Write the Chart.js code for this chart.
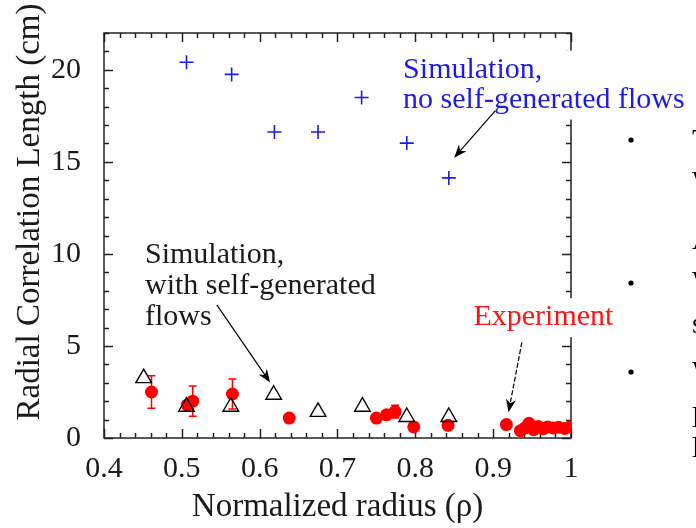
<!DOCTYPE html>
<html>
<head>
<meta charset="utf-8">
<script src="https://cdn.jsdelivr.net/npm/chart.js@4.4.1/dist/chart.umd.min.js"></script>
<style>
  html, body { margin: 0; padding: 0; background: #fff; }
</style>
</head>
<body>
<canvas id="c" width="696" height="528"></canvas>
<script>
// ── Data ─────────────────────────────────────────────────────────────────────
// Simulation, no self-generated flows (blue +)
const noFlowX = [0.506, 0.564, 0.619, 0.675, 0.731, 0.789, 0.843];
const noFlowY = [20.41, 19.75, 16.62, 16.62, 18.50, 16.02, 14.13];

// Simulation, with self-generated flows (open triangles)
const withFlowX = [0.451, 0.506, 0.563, 0.618, 0.675, 0.732, 0.789, 0.843];
const withFlowY = [3.25, 1.70, 1.70, 2.35, 1.42, 1.70, 1.14, 1.14];

// Experiment (red dots) + symmetric error
const expX   = [0.461, 0.507, 0.514, 0.565, 0.638, 0.750, 0.763, 0.774, 0.798, 0.842, 0.917,
                0.935, 0.941, 0.946, 0.952, 0.958, 0.964, 0.970, 0.977, 0.984, 0.992, 0.999];
const expY   = [2.50, 1.79, 2.00, 2.39, 1.08, 1.08, 1.26, 1.43, 0.60, 0.69, 0.73,
                0.40, 0.55, 0.80, 0.45, 0.62, 0.50, 0.60, 0.55, 0.58, 0.52, 0.60];
const expErr = [0.88, 0, 0.82, 0.81, 0, 0, 0, 0.35, 0, 0, 0,
                0, 0, 0, 0, 0, 0, 0, 0, 0, 0, 0];

// Axes
const xTickVals   = [0.4, 0.5, 0.6, 0.7, 0.8, 0.9, 1.0];
const xTickLabels = ["0.4", "0.5", "0.6", "0.7", "0.8", "0.9", "1"];
const yTickVals   = [0, 5, 10, 15, 20];
const yTickLabels = ["0", "5", "10", "15", "20"];

const SERIF = "'Liberation Serif', 'Times New Roman', serif";
const BLUE = "rgb(28,28,230)";
const RED = "#ff0000";
const INK = "#1a1a1a";

const toPts = (xs, ys) => xs.map((x, i) => ({ x, y: ys[i] }));

// ── Frame with inward ticks on all four sides ────────────────────────────────
const framePlugin = {
  id: "frame",
  beforeDatasetsDraw(chart) {
    const { ctx, chartArea: a, scales: { x, y } } = chart;
    ctx.save();
    ctx.strokeStyle = "#222";
    ctx.lineWidth = 1.5;
    ctx.strokeRect(a.left, a.top, a.right - a.left, a.bottom - a.top);
    ctx.beginPath();
    for (let i = 0; i <= 30; i++) {
      const px = Math.round(x.getPixelForValue(0.4 + i * 0.02)) + 0.5;
      const len = i % 5 === 0 ? 9 : 5;
      ctx.moveTo(px, a.bottom); ctx.lineTo(px, a.bottom - len);
      ctx.moveTo(px, a.top); ctx.lineTo(px, a.top + len);
    }
    for (let v = 0; v <= 22; v++) {
      const py = Math.round(y.getPixelForValue(v)) + 0.5;
      const len = v % 5 === 0 ? 9 : 5;
      ctx.moveTo(a.left, py); ctx.lineTo(a.left + len, py);
      ctx.moveTo(a.right, py); ctx.lineTo(a.right - len, py);
    }
    ctx.stroke();

    // error bars for the experiment
    ctx.strokeStyle = RED;
    ctx.lineWidth = 1.5;
    ctx.beginPath();
    expX.forEach((xv, i) => {
      if (!expErr[i]) return;
      const px = x.getPixelForValue(xv);
      const y1 = y.getPixelForValue(expY[i] - expErr[i]);
      const y2 = y.getPixelForValue(expY[i] + expErr[i]);
      ctx.moveTo(px, y1); ctx.lineTo(px, y2);
      ctx.moveTo(px - 4, y1); ctx.lineTo(px + 4, y1);
      ctx.moveTo(px - 4, y2); ctx.lineTo(px + 4, y2);
    });
    ctx.stroke();
    ctx.restore();
  },
};

// ── Annotations: labels, arrows, y title, slide fragments ────────────────────
function arrow(ctx, x1, y1, x2, y2, dashed) {
  const ang = Math.atan2(y2 - y1, x2 - x1);
  const L = 13, W = 5;
  ctx.save();
  ctx.strokeStyle = "#000";
  ctx.fillStyle = "#000";
  ctx.lineWidth = 1.2;
  if (dashed) ctx.setLineDash([5, 2]);
  ctx.beginPath();
  ctx.moveTo(x1, y1);
  ctx.lineTo(x2 - Math.cos(ang) * 8, y2 - Math.sin(ang) * 8);
  ctx.stroke();
  ctx.setLineDash([]);
  ctx.translate(x2, y2);
  ctx.rotate(ang);
  ctx.beginPath();
  ctx.moveTo(0, 0);
  ctx.lineTo(-L, -W);
  ctx.lineTo(-L * 0.7, 0);
  ctx.lineTo(-L, W);
  ctx.closePath();
  ctx.fill();
  ctx.restore();
}

function label(ctx, x, y, note, color, lineGap) {
  const px = x.getPixelForValue(note.x);
  const py = y.getPixelForValue(note.y);
  ctx.font = "30px " + SERIF;
  const w = Math.max(...note.text.map((t) => ctx.measureText(t).width));
  ctx.fillStyle = "#fff";
  ctx.fillRect(px - 3, py - 27, w + 6, lineGap * (note.text.length - 1) + 39);
  ctx.fillStyle = color;
  ctx.textBaseline = "alphabetic";
  ctx.textAlign = "left";
  note.text.forEach((t, i) => ctx.fillText(t, px, py + i * lineGap));
}

const notesPlugin = {
  id: "notes",
  afterDatasetsDraw(chart) {
    const { ctx, scales: { x, y } } = chart;
    ctx.save();
    label(ctx, x, y, { x: 0.7843, y: 19.58, text: ["Simulation,", "no self-generated flows"] }, BLUE, 30);
    label(ctx, x, y, { x: 0.4527, y: 9.48, text: ["Simulation,", "with self-generated", "flows"] }, INK, 31);
    label(ctx, x, y, { x: 0.8747, y: 6.13, text: ["Experiment"] }, "#ff1414", 30);

    arrow(ctx, x.getPixelForValue(0.9026), y.getPixelForValue(17.77),
               x.getPixelForValue(0.8499), y.getPixelForValue(15.23), false);
    arrow(ctx, x.getPixelForValue(0.5449), y.getPixelForValue(7.23),
               x.getPixelForValue(0.6134), y.getPixelForValue(3.02), false);
    arrow(ctx, x.getPixelForValue(0.9369), y.getPixelForValue(5.20),
               x.getPixelForValue(0.9197), y.getPixelForValue(1.40), true);

    // y title
    ctx.save();
    ctx.translate(30, 212);
    ctx.rotate(-Math.PI / 2);
    ctx.font = "33px " + SERIF;
    ctx.fillStyle = INK;
    ctx.textAlign = "center";
    ctx.textBaseline = "middle";
    ctx.fillText("Radial Correlation Length (cm)", 0, 0);
    ctx.restore();

    // bullets and clipped letters of the neighbouring slide text
    ctx.fillStyle = "#000";
    [140, 283, 372].forEach((by) => {
      ctx.beginPath(); ctx.arc(631, by, 2.6, 0, Math.PI * 2); ctx.fill();
    });
    ctx.font = "30px " + SERIF;
    ctx.textBaseline = "top";
    [["T", 126], ["W", 168], ["A", 226], ["W", 268], ["s", 310], ["W", 358], ["l", 404], ["l", 434]]
      .forEach(([ch, ty]) => ctx.fillText(ch, 692, ty));
    ctx.restore();
  },
};

// ── Chart ────────────────────────────────────────────────────────────────────
new Chart(document.getElementById("c"), {
  type: "scatter",
  data: {
    datasets: [
      {
        label: "Simulation, with self-generated flows",
        data: toPts(withFlowX, withFlowY),
        pointStyle: "triangle",
        pointRadius: 9,
        borderColor: "#000",
        backgroundColor: "rgba(255,255,255,0)",
        borderWidth: 1.4,
      },
      {
        label: "Experiment",
        data: toPts(expX, expY),
        pointStyle: "circle",
        pointRadius: 6.5,
        borderColor: RED,
        backgroundColor: RED,
        borderWidth: 0,
      },
      {
        label: "Simulation, no self-generated flows",
        data: toPts(noFlowX, noFlowY),
        pointStyle: "cross",
        pointRadius: 7,
        borderColor: BLUE,
        borderWidth: 1.6,
      },
    ],
  },
  options: {
    responsive: false,
    animation: false,
    layout: { padding: { left: 0, top: 24, right: 125, bottom: 0 } },
    plugins: { legend: { display: false }, tooltip: { enabled: false } },
    scales: {
      x: {
        type: "linear",
        min: 0.4,
        max: 1.0,
        afterBuildTicks: (s) => { s.ticks = xTickVals.map((v) => ({ value: v })); },
        afterFit: (s) => { s.height = 90; },
        grid: { display: false },
        border: { display: false },
        ticks: {
          padding: 5,
          color: INK,
          font: { family: SERIF, size: 30 },
          callback: (v, i) => xTickLabels[i],
          maxRotation: 0,
        },
        title: {
          display: true,
          text: "Normalized radius (ρ)",
          color: INK,
          font: { family: SERIF, size: 33 },
          padding: { top: 0, bottom: 1 },
        },
      },
      y: {
        type: "linear",
        min: 0,
        max: 22,
        afterBuildTicks: (s) => { s.ticks = yTickVals.map((v) => ({ value: v })); },
        afterFit: (s) => { s.width = 104; },
        grid: { display: false },
        border: { display: false },
        ticks: {
          padding: 15,
          color: INK,
          font: { family: SERIF, size: 30 },
          callback: (v, i) => yTickLabels[i],
        },
      },
    },
  },
  plugins: [framePlugin, notesPlugin],
});
</script>
</body>
</html>
